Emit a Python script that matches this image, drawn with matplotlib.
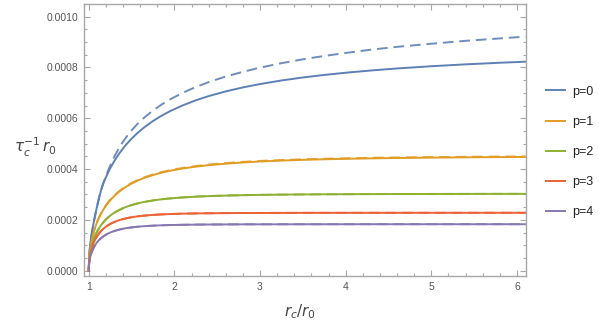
import matplotlib
matplotlib.use("Agg")
import matplotlib.pyplot as plt
from matplotlib.ticker import MultipleLocator

# ---- data, values in units of 1e-3 ----
x_vals = [1.0, 1.005, 1.01, 1.02, 1.03, 1.04, 1.05, 1.06, 1.075, 1.09, 1.11, 1.13,
          1.15, 1.17, 1.2, 1.23, 1.26, 1.3, 1.35, 1.4, 1.45, 1.5, 1.57, 1.65, 1.75,
          1.85, 1.95, 2.1, 2.25, 2.4, 2.6, 2.8, 3.0, 3.25, 3.5, 3.75, 4.0, 4.3, 4.6,
          5.0, 5.4, 5.8, 6.1]

p0_solid = [0, .055, .078, .110, .135, .156, .175, .193, .218, .242, .272, .300,
            .323, .343, .3674, .3892, .4089, .4323, .4583, .4811, .5014, .5196, .5423,
            .5649, .5892, .6101, .6282, .6513, .6708, .6874, .7060, .7216, .7348,
            .7489, .7607, .7707, .7794, .7884, .7962, .8050, .8124, .8187, .8229]
p0_dashed = [0, .055, .078, .110, .135, .156, .175, .193, .218, .242, .272, .300,
             .324, .345, .3711, .3970, .4212, .4496, .4803, .5076, .5310, .5523, .5781,
             .6033, .6304, .6540, .6747, .7008, .7231, .7424, .7646, .7829, .7995,
             .8170, .8322, .8455, .8573, .8704, .8814, .8936, .9050, .9145, .9216]
p1_solid = [0, .0462, .0651, .0914, .1111, .1274, .1414, .1537, .1700, .1843, .2010,
            .2155, .2285, .2401, .2555, .2690, .2809, .2948, .3097, .3224, .3334,
            .3430, .3544, .3654, .3766, .3858, .3934, .4025, .4097, .4154, .4214,
            .4261, .4299, .4335, .4364, .4387, .4405, .4423, .4437, .4452, .4464,
            .4473, .4479]
p1_dashed = [0, .0462, .0651, .0914, .1111, .1275, .1416, .1540, .1705, .1850, .2018,
             .2165, .2298, .2415, .2572, .2708, .2828, .2968, .3118, .3246, .3357,
             .3453, .3567, .3677, .3789, .3881, .3957, .4048, .4120, .4177, .4237,
             .4284, .4322, .4357, .4385, .4408, .4426, .4444, .4458, .4472, .4484,
             .4493, .4499]
p2_solid = [0, .0381, .0536, .0751, .0910, .1041, .1152, .1250, .1377, .1488, .1615,
            .1724, .1819, .1904, .2014, .2109, .2191, .2284, .2380, .2460, .2527,
            .2583, .2648, .2708, .2766, .2811, .2846, .2885, .2915, .2937, .2958,
            .2973, .2985, .2995, .3002, .3008, .3012, .3016, .3018, .3021, .3023,
            .3025, .3025]
p3_solid = [0, .0347, .0487, .0680, .0821, .0935, .1032, .1116, .1224, .1316, .1420,
            .1507, .1582, .1647, .1730, .1798, .1856, .1919, .1982, .2032, .2072,
            .2104, .2139, .2169, .2196, .2216, .2230, .2245, .2255, .2261, .2267,
            .2271, .2273, .2275, .2277, .2278, .2278, .2279, .2279, .2280, .2280,
            .2280, .2280]
p4_solid = [0, .0287, .0403, .0562, .0678, .0772, .0851, .0920, .1008, .1083, .1167,
            .1237, .1298, .1350, .1415, .1469, .1515, .1564, .1613, .1651, .1681,
            .1705, .1731, .1754, .1773, .1787, .1797, .1807, .1814, .1818, .1822,
            .1825, .1826, .1827, .1828, .1829, .1829, .1830, .1830, .1830, .1830,
            .1830, .1830]

labels = ["p=0", "p=1", "p=2", "p=3", "p=4"]
colors = ["#5E81B5", "#E19C24", "#8FB032", "#EB6235", "#8778B3"]

x_ticks = [1, 2, 3, 4, 5, 6]
x_ticklabels = ["1", "2", "3", "4", "5", "6"]
y_ticks = [0.0, 0.0002, 0.0004, 0.0006, 0.0008, 0.0010]
y_ticklabels = ["0.0000", "0.0002", "0.0004", "0.0006", "0.0008", "0.0010"]

SCALE = 1e-3

plt.rcParams['font.family'] = ['Liberation Sans', 'DejaVu Sans']
plt.rcParams['mathtext.fontset'] = 'dejavusans'

fig = plt.figure(figsize=(5.99, 3.27), dpi=100)
ax = fig.add_axes([84/599, 1-276/327, (526-84)/599, (276-4)/327])

solids = [p0_solid, p1_solid, p2_solid, p3_solid, p4_solid]
dashed = [p0_dashed, p1_dashed, p2_solid, p3_solid, p4_solid]
lw = 1.4
handles = []
for ys, c, lab in zip(solids, colors, labels):
    h, = ax.plot(x_vals, [v * SCALE for v in ys], color=c, lw=lw, label=lab)
    handles.append(h)
for ys, c in zip(dashed, colors):
    ax.plot(x_vals, [v * SCALE for v in ys], color=c, lw=lw, ls=(0, (5.5, 3.0)),
            alpha=0.9)

ax.set_xlim(0.945, 6.105)
ax.set_ylim(-0.0000209, 0.00105)
ax.set_xticks(x_ticks)
ax.set_xticklabels(x_ticklabels)
ax.set_yticks(y_ticks)
ax.set_yticklabels(y_ticklabels)
ax.xaxis.set_minor_locator(MultipleLocator(0.2))
ax.yaxis.set_minor_locator(MultipleLocator(0.00005))

frame_col = "#a8a8a8"
for s in ax.spines.values():
    s.set_color(frame_col)
    s.set_linewidth(1.0)
ax.tick_params(which='both', direction='in', top=True, right=True, color=frame_col,
               labelcolor="#555555", labelsize=7.5, width=0.8)
ax.tick_params(which='major', length=4.5, pad=4)
ax.tick_params(which='minor', length=2.5)

fig.text(35/599, 1-147/327, r"$\mathit{\tau_c^{-1}\,r_0}$", ha='center', va='center',
         fontsize=11, color="#444444")
fig.text(300/599, 1-312/327, r"$\mathit{r_c/r_0}$", ha='center', va='center',
         fontsize=11, color="#444444")

leg = fig.legend(handles=handles, labels=labels, loc='center left',
                 bbox_to_anchor=(535/599, 1-152/327), frameon=False,
                 fontsize=9, handlelength=1.5, handletextpad=0.6,
                 labelspacing=1.45)
for t in leg.get_texts():
    t.set_color("#222222")

fig.savefig("out.png", dpi=100)
